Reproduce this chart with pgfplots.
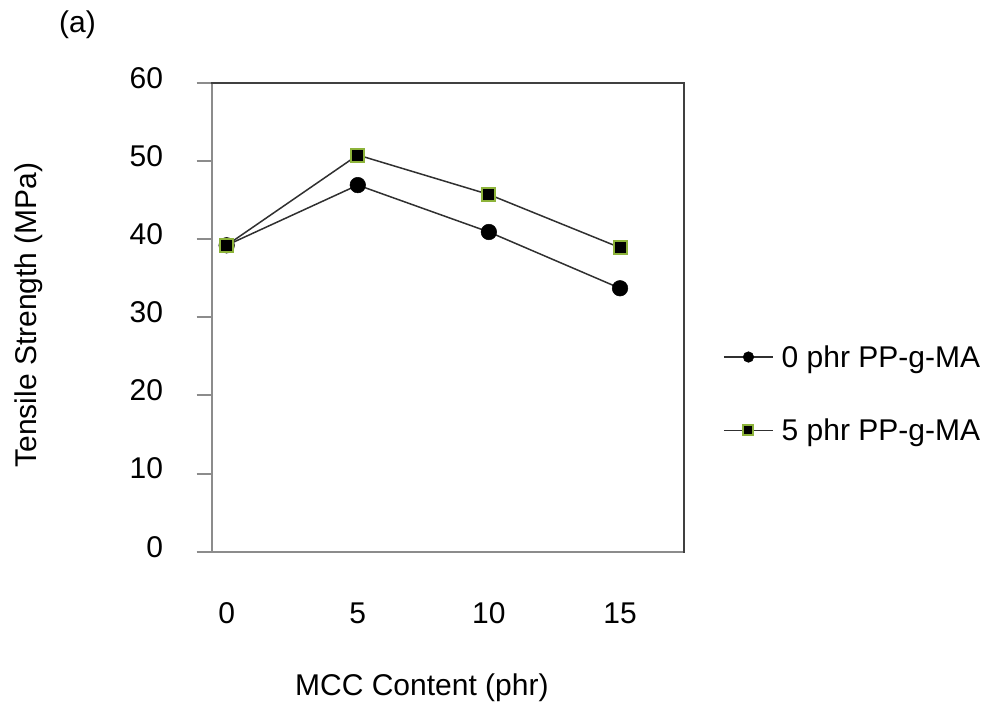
\documentclass[border=0pt]{standalone}
\usepackage{pgfplots}
\pgfplotsset{compat=1.18}
\usepackage{fontspec}
\setmainfont{Liberation Sans}
\definecolor{axgray}{HTML}{8C8C8C}
\definecolor{frameDark}{HTML}{404040}
\definecolor{lineDark}{HTML}{303030}
\definecolor{markgreen}{HTML}{8DB33A}
\begin{document}
\begin{tikzpicture}[font=\fontsize{30}{36}\selectfont]
\useasboundingbox (0,0) rectangle (990pt,709pt);
\node[anchor=center, inner sep=0pt] at (77.5pt,684pt) {(a)};
\begin{axis}[
  at={(211.7pt,157.3pt)}, anchor=south west,
  scale only axis, width=472.3pt, height=469pt,
  xmin=-0.114, xmax=3.488, ymin=0, ymax=60,
  xtick={0,1,2,3}, xticklabels={0,5,10,15},
  ytick={0,10,...,60},
  ytick pos=left, xtick pos=bottom,
  /pgf/number format/assume math mode=true,
  axis line style={axgray, line width=2pt},
  tick align=outside, major tick length=15pt,
  ytick style={axgray, line width=2pt},
  xtick style={draw=none},
  yticklabel style={anchor=east, inner sep=0pt, xshift=-33.4pt, yshift=5pt},
  xticklabel style={anchor=north, inner sep=0pt, yshift=-36pt},
  xlabel={MCC Content (phr)},
  xlabel style={at={(rel axis cs:0.445,-0.290)}, anchor=center, inner sep=0pt},
  ylabel={Tensile Strength (MPa)},
  ylabel style={at={(rel axis cs:-0.387,0.505)}, anchor=center, inner sep=0pt},
  legend style={at={(rel axis cs:1.0826,0.337)}, anchor=west, draw=none, fill=none,
    inner sep=0pt, row sep=50pt, column sep=8pt, nodes={inner sep=0pt}},
  legend cell align=left,
  after end axis/.code={\draw[frameDark, line width=2pt, line cap=rect] (rel axis cs:0,1) -- (rel axis cs:1,1) -- (rel axis cs:1,0);},
]
\addplot[lineDark, line width=1.5pt, mark=*, mark size=7.8pt, mark options={fill=black, draw=black, line width=0.5pt},
  legend image code/.code={\draw[mark repeat=2,mark phase=2, mark size=5.3pt] plot coordinates {(0pt,0pt)(24.5pt,0pt)(49pt,0pt)};}]
  coordinates {(0,39.2) (1,46.9) (2,40.9) (3,33.7)};
\addlegendentry{0 phr PP-g-MA}
\addplot[lineDark, line width=1.5pt, mark=square*, mark size=6.5pt, mark options={fill=black, draw=markgreen, line width=2pt},
  legend image code/.code={\draw[mark repeat=2,mark phase=2, mark size=5pt] plot coordinates {(0pt,0pt)(24.5pt,0pt)(49pt,0pt)};}]
  coordinates {(0,39.2) (1,50.75) (2,45.7) (3,38.9)};
\addlegendentry{5 phr PP-g-MA}
\end{axis}
\end{tikzpicture}
\end{document}
